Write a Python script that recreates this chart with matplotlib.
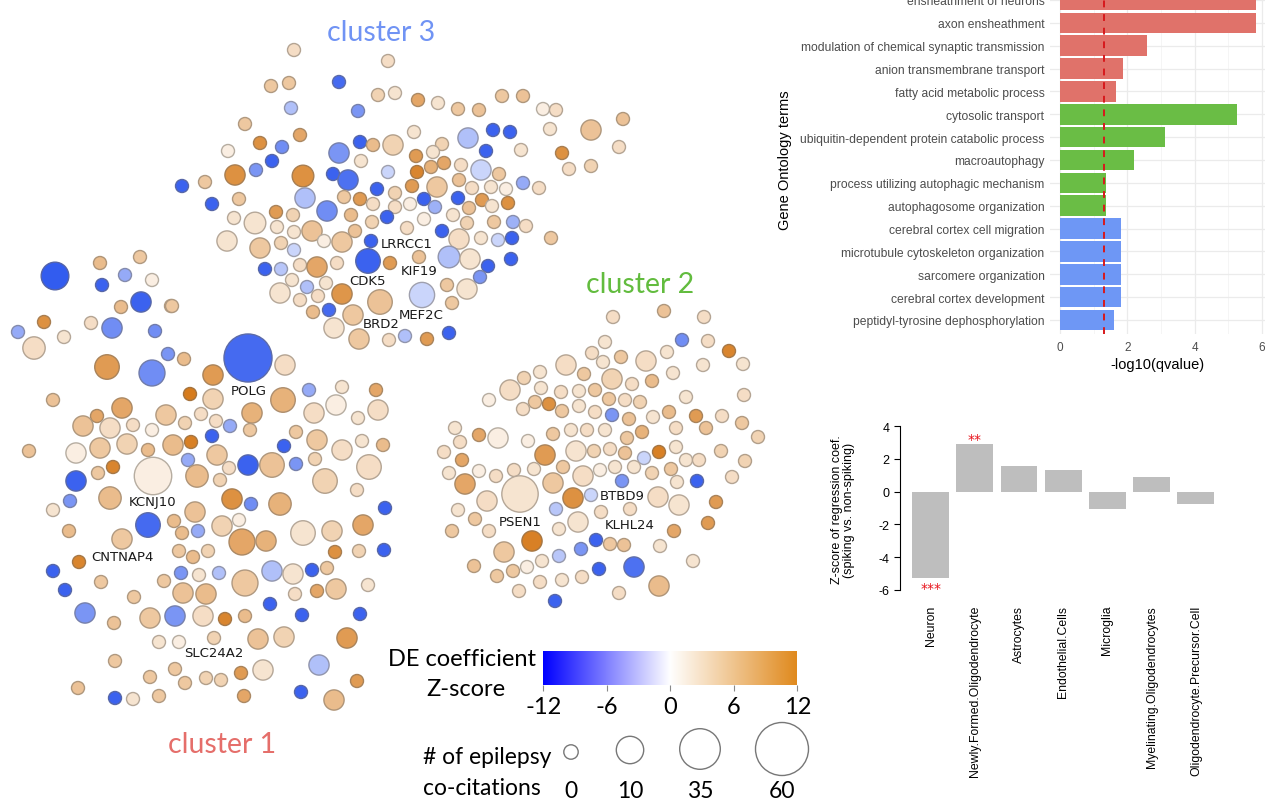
import numpy as np
import matplotlib
matplotlib.use("Agg")
import matplotlib.pyplot as plt
from matplotlib.colors import LinearSegmentedColormap, Normalize
from matplotlib.patches import Circle

# ---------------- network data (layout x/y, DE z-score, # epilepsy co-citations) -------------
c1_x = [55,100,140,125,102,152,141,121,171,44,
        91,112,155,18,64,34,168,184,107,152,
        53,190,122,97,83,110,133,152,166,185,
        201,29,76,100,127,148,173,191,188,76,
        98,113,153,197,248,285,213,213,252,283,
        309,342,376,314,336,378,358,216,230,250,
        212,296,284,317,342,362,383,217,229,248,
        272,296,315,369,325,357,220,232,251,280,
        385,110,53,70,148,195,174,222,239,303,
        332,363,69,122,182,198,242,266,335,359,
        384,179,193,208,79,53,65,101,134,85,
        114,164,181,199,219,245,272,293,312,327,
        183,206,295,317,336,368,270,302,360,150,
        175,203,225,245,159,179,214,258,284,347,
        115,150,175,185,206,221,241,263,319,357,
        78,115,133,159,244,301,334]
c1_y = [277,264,258,276,286,281,303,308,307,323,
        324,329,332,333,338,349,355,360,368,374,
        401,395,409,417,427,429,426,431,416,424,
        415,452,454,449,445,451,446,443,461,482,
        474,468,477,477,359,366,376,400,414,401,
        391,388,391,414,406,411,419,422,427,431,
        437,433,447,441,451,442,446,456,469,466,
        466,465,460,468,482,491,481,500,505,505,
        509,499,511,502,526,513,522,527,521,534,
        532,526,532,540,534,532,543,542,553,552,
        551,552,558,552,563,572,591,583,598,614,
        624,582,574,576,574,584,572,575,571,569,
        594,595,595,592,590,586,605,616,615,619,
        617,617,620,617,643,643,639,640,638,639,
        662,678,670,684,679,681,674,671,666,682,
        689,699,700,697,697,693,701]
c1_z = [-11.5,6,5,-6,-11,1.5,-11,6,5,10,
        3,-8,-8,-6,2.5,3,-7.5,6,9,-8,
        5.5,12,8,8,5.5,3,3,1.5,5,4,
        3,5.5,1.5,5,4,6,6,11.5,-6,-11,
        5,11,1.5,6,-10.5,3,9,4,7,7,
        -6,2.5,8,3,1.5,3,2.5,3,-6,5,
        -11,5,-11,5,3,2.5,6,5,3,-11,
        5.5,-7.5,4,3,4,3,4,10,-8,7,
        -11,6,2.5,-7.5,-10.5,5.5,6,4,1.5,2.5,
        4,8,6,5,6,-6,8,7,10,4,
        -11,5,6,4,11,-11,-11,5,5,-7.5,
        5.5,5,-7.5,2.5,-4.5,5,-4.5,2.5,-11,5,
        5.5,6,3,8,5,2.5,-11,-11,-11,5,
        -7.5,3,11,6,2.5,1.5,4,5.5,4,9,
        5,5,5,5,4,4,9,2.5,-4.5,9,
        5.5,-11,2.5,5,8,-11,6]
c1_cit = [10.5,0,0,0,0,0,5,0,0,0,
          0,5,0,0,0,6.5,0,0,8,9,
          0,0,5,0,5,5,0,0,5,0,
          0,0,5,5,5,0,5,0,0,5,
          0,0,29,6.5,50,5,5,5,5,8,
          0,0,0,5,5,5,0,0,0,0,
          0,0,0,5,5,0,0,5,0,5,
          8,0,0,8,8,0,0,5,0,6.5,
          0,6.5,0,0,8,5,0,5,0,8,
          5,5,0,5,0,0,9,5,0,0,
          0,0,0,0,0,0,0,0,0,5,
          0,0,0,0,0,9,5,5,0,0,
          5,5,0,0,5,0,0,0,0,5,
          5,5,0,0,0,0,0,5,5,5,
          0,0,0,0,0,0,0,5,5,0,
          0,0,0,0,0,0,5]

c2_x = [613,664,704,682,708,729,743,703,605,592,
        603,621,646,667,566,584,612,632,652,673,
        744,686,540,524,510,541,489,561,579,595,
        609,625,640,523,535,549,562,579,595,612,
        629,653,669,696,722,742,758,676,706,455,
        479,498,460,528,553,571,587,605,627,642,
        444,462,545,576,594,610,625,644,659,676,
        686,699,721,745,449,479,496,514,534,563,
        583,600,615,634,652,671,465,553,622,677,
        697,732,520,487,573,591,658,679,716,458,
        556,601,630,475,578,559,489,452,674,708,
        532,596,610,624,660,504,559,581,542,527,
        474,513,599,634,693,497,540,562,582,659,
        519,619,555]
c2_y = [318,312,318,341,342,352,365,366,343,354,
        363,358,362,353,366,375,380,385,382,374,
        396,398,373,379,391,389,401,393,392,391,
        400,401,403,410,403,405,412,407,413,416,
        420,418,413,417,417,424,438,429,429,429,
        436,439,443,442,435,431,431,431,439,433,
        453,461,456,452,452,450,454,459,453,448,
        461,461,452,462,474,472,477,471,470,468,
        477,471,468,468,474,470,485,484,482,483,
        482,478,495,502,499,496,498,506,503,511,
        510,513,510,520,523,530,532,532,532,524,
        542,541,545,546,547,553,557,550,562,568,
        567,572,570,568,562,577,583,581,578,587,
        592,594,602]
c2_z = [3,5.5,3,-8,3,11,2.5,2.5,2.5,3,
        2.5,5,3,2.5,3,5,4,3,6,2.5,
        3,2.5,2.5,4,3,2.5,1.5,3,2.5,5,
        5,3,4,3,5,10,5,2.5,3,-7.5,
        5.5,2.5,6,9,3,5,4,3,5.5,2.5,
        8,1.5,3,1.5,5,2.5,3,2.5,5,7,
        3,8,9,2.5,4,3,5.5,-3,11.5,2.5,
        2.5,3,4,4,2.5,1.5,3,3,2.5,5,
        3,1.5,2.5,2.5,4,5,8,5,-7.5,2.5,
        -11,3,2.5,3,10,-3,3,2.5,9,2.5,
        -4,3,3,5,2.5,2.5,3,5,8,9,
        11.5,-11,5,5.5,2.5,5,-4,-7.5,2.5,1.5,
        5.5,5,-11,-10,2.5,5,3,2.5,3,6,
        3,3,-11]
c2_cit = [0,0,0,0,0,0,0,0,0,0,
          0,0,5,0,5,0,5,0,0,0,
          0,0,0,0,5,0,0,0,0,0,
          0,0,0,0,0,0,0,0,0,0,
          0,0,0,0,0,0,0,0,0,0,
          0,5,0,0,0,0,0,0,0,0,
          0,0,5,5,0,0,0,0,0,0,
          0,0,0,0,0,0,0,0,0,0,
          5,0,0,0,0,0,5,5,0,0,
          0,0,27,5,5,0,5,5,0,0,
          0,0,0,0,5,0,0,0,0,0,
          5,0,0,0,0,5,0,0,0,0,
          0,0,0,5,0,0,0,0,0,5,
          0,0,0]

c3_x = [294,388,271,289,339,378,395,418,438,458,
        291,358,245,300,468,228,260,282,272,360,
        373,393,414,442,433,339,361,416,444,431,
        461,417,205,235,256,303,333,348,388,412,
        437,459,472,182,212,239,305,344,377,360,
        395,373,395,410,424,435,458,469,234,255,
        276,293,327,351,387,372,424,453,467,227,
        277,294,312,324,342,355,407,442,459,260,
        281,294,371,368,390,419,449,470,265,281,
        300,317,337,292,307,326,280,300,318,342,
        380,422,447,467,452,313,329,353,334,359,
        389,405,427,449,172,479,502,523,543,556,
        623,591,550,493,510,486,521,562,619,481,
        499,569,591,523,539,491,506,482,508,492,
        494,513,526,481,498,512,551,488,511,480]
c3_y = [51,62,87,84,83,96,94,101,104,110,
        109,112,125,136,139,152,144,148,162,143,
        146,146,133,145,153,154,162,157,164,168,
        166,173,183,176,171,177,175,181,173,187,
        188,181,189,187,205,200,199,198,190,200,
        194,205,208,205,200,208,199,209,219,224,
        213,216,212,216,218,223,220,216,224,242,
        228,233,232,242,243,232,229,232,240,249,
        244,251,242,262,264,258,258,260,270,270,
        266,268,264,281,288,284,294,301,297,295,
        303,296,286,290,304,313,311,316,329,340,
        341,337,340,334,307,111,97,97,110,111,
        120,131,130,131,133,152,151,154,148,171,
        175,170,167,184,189,188,190,201,204,207,
        223,223,227,239,241,239,239,267,260,278]
c3_z = [3,3,5,5,-10.5,4,2.5,8,2.5,5,
        -4.5,-7.5,5,8,-4.5,1.5,10,-8,-11,-11,
        6,4,2.5,4,2.5,-7.5,2.5,9,8,7,
        3,11,5,10,-7.5,10,-11,-10,-3,9,
        5,5.5,3,-11,-11,5,-4.5,5,-11,9,
        4,3,3,1.5,-11,-5.5,-11,5.5,2.5,2.5,
        9,4,-8,6,-11,4,1.5,2.5,4,2.5,
        2.5,2.5,5.5,1.5,5,5.5,3,-11,3,5,
        4,-3,-11,-11,9,5.5,-4.5,2.5,-11,-4,
        3,8,3,2.5,-4.5,2.5,2.5,3,3,9.5,
        5.5,-3,5,2.5,5,6,-10.5,5,2.5,5,
        3,-4.5,9,-11,5,5.5,5,5.5,1.5,3,
        5.5,5.5,2.5,-11,-11,-11,2.5,10,3,-3,
        5,3,4,-6,3,2.5,1.5,9,10,2.5,
        5,-5.5,3,2.5,-3,-11,5,-11,-11,-7.5]
c3_cit = [0,0,0,0,0,0,0,0,0,0,
          0,0,0,0,5,0,0,0,0,0,
          0,5,0,0,0,5,0,0,0,0,
          0,0,0,5,0,6,0,5,0,0,
          5,0,0,0,0,0,5,0,0,0,
          0,0,0,0,0,0,0,0,0,6,
          0,0,5,0,0,0,0,0,0,5,
          0,0,5,0,5,0,0,0,5,5,
          0,0,0,8,0,0,6,5,0,0,
          0,5,0,0,0,0,5,0,0,5,
          8,8.5,0,5,0,0,0,5,5,5,
          0,0,0,0,0,0,0,0,0,0,
          0,5,0,0,0,0,0,0,0,5,
          0,0,0,0,0,0,0,0,0,0,
          0,0,0,0,0,0,0,0,0,0]

gene_labels = ["POLG", "KCNJ10", "CNTNAP4", "SLC24A2", "LRRCC1", "KIF19",
               "CDK5", "BRD2", "MEF2C", "PSEN1", "BTBD9", "KLHL24"]
cluster_names = ["cluster 1", "cluster 2", "cluster 3"]

# legend values
cbar_ticks = [-12, -6, 0, 6, 12]
size_legend = [0, 10, 35, 60]

# ---------------- GO enrichment ----------------
go_terms = ["ensheathment of neurons", "axon ensheathment",
            "modulation of chemical synaptic transmission", "anion transmembrane transport",
            "fatty acid metabolic process", "cytosolic transport",
            "ubiquitin-dependent protein catabolic process", "macroautophagy",
            "process utilizing autophagic mechanism", "autophagosome organization",
            "cerebral cortex cell migration", "microtubule cytoskeleton organization",
            "sarcomere organization", "cerebral cortex development",
            "peptidyl-tyrosine dephosphorylation"]
go_vals = [5.81, 5.81, 2.58, 1.87, 1.66, 5.26, 3.11, 2.20, 1.35, 1.35,
           1.81, 1.81, 1.81, 1.81, 1.60]
go_cluster = [1, 1, 1, 1, 1, 2, 2, 2, 2, 2, 3, 3, 3, 3, 3]
go_threshold = 1.30

# ---------------- cell type regression ----------------
ct_names = ["Neuron", "Newly.Formed.Oligodendrocyte", "Astrocytes", "Endothelial.Cells",
            "Microglia", "Myelinating.Oligodendrocytes", "Oligodendrocyte.Precursor.Cell"]
ct_z = [-5.29, 2.91, 1.59, 1.32, -1.06, 0.88, -0.77]
ct_stars = ["***", "**", "", "", "", "", ""]

# ================= drawing =================
W, H = 1265, 803
fig = plt.figure(figsize=(W / 100, H / 100), dpi=100)
fig.patch.set_facecolor("white")

ax = fig.add_axes([0, 0, 1, 1])
ax.set_xlim(0, W)
ax.set_ylim(H, 0)
ax.axis("off")

node_cmap = LinearSegmentedColormap.from_list(
    "node", [(0, "#2A55EE"), (0.5, "#FFFFFF"), (1, "#D67B1C")])
bar_cmap = LinearSegmentedColormap.from_list(
    "cbar", [(0, "#0000FF"), (0.5, "#FFFFFF"), (1, "#E08A1E")])
norm = Normalize(-12, 12)


def radius(c):
    return np.interp(c, [0, 10, 35, 60], [6.5, 13.7, 20.3, 26.5])


for xs, ys, zs, cs in [(c1_x, c1_y, c1_z, c1_cit), (c2_x, c2_y, c2_z, c2_cit),
                       (c3_x, c3_y, c3_z, c3_cit)]:
    for x, y, z, c in zip(xs, ys, zs, cs):
        col = node_cmap(norm(z))
        edge = tuple(0.5 * np.array(col[:3]) + 0.5 * np.array([0.45, 0.42, 0.38]))
        ax.add_patch(Circle((x, y), radius(c), facecolor=col, edgecolor=edge,
                            lw=1.0, zorder=2))

label_pos = {"POLG": (231, 392), "KCNJ10": (129, 503), "CNTNAP4": (91, 558),
             "SLC24A2": (184, 654), "LRRCC1": (381, 244), "KIF19": (401, 272),
             "CDK5": (349, 282), "BRD2": (363, 325), "MEF2C": (399, 316),
             "PSEN1": (499, 523), "BTBD9": (600, 497), "KLHL24": (605, 526)}
for g in gene_labels:
    gx, gy = label_pos[g]
    ax.text(gx, gy, g, fontsize=9.5, ha="left", va="center", color="#1a1a1a", zorder=5,
            family="DejaVu Sans")

cl_style = {"cluster 1": ((222, 745), "#E56E6A"),
            "cluster 2": ((640, 285), "#62BC3E"),
            "cluster 3": ((381, 33), "#7093F4")}
for name in cluster_names:
    (cx, cy), col = cl_style[name]
    ax.text(cx, cy, name, fontsize=20.5, ha="center", va="center", color=col,
            family="Lato")

# colour legend
ax.text(462, 660, "DE coefficient", fontsize=17, ha="center", va="center", family="Lato")
ax.text(466, 690, "Z-score", fontsize=17, ha="center", va="center", family="Lato")
cax = fig.add_axes([543.3 / W, 1 - 685.7 / H, 254 / W, 34 / H])
grad = np.linspace(-12, 12, 512)[None, :]
cax.imshow(grad, cmap=bar_cmap, norm=norm, aspect="auto", extent=[-12, 12, 0, 1])
cax.set_xlim(-12, 12)
cax.set_yticks([])
cax.set_xticks(cbar_ticks)
cax.set_xticklabels([str(t) for t in cbar_ticks], fontsize=17, family="Lato")
cax.tick_params(axis="x", length=4, color="#888888", pad=4)
for s in cax.spines.values():
    s.set_visible(False)

# size legend
ax.text(423, 758, "# of epilepsy", fontsize=16.5, ha="left", va="center", family="Lato")
ax.text(423, 789, "co-citations", fontsize=16.5, ha="left", va="center", family="Lato")
leg_x = [571, 630, 700, 782]
leg_y = [753, 751, 750, 750]
for v, lx, ly in zip(size_legend, leg_x, leg_y):
    ax.add_patch(Circle((lx, ly), np.interp(v, [0, 10, 35, 60], [7.2, 13.7, 20.3, 26.5]),
                        facecolor="none", edgecolor="#777777", lw=1.0))
    ax.text(lx, 792, str(v), fontsize=16.5, ha="center", va="center", family="Lato")

# ---------------- GO bar chart ----------------
go_colors = {1: "#E0726A", 2: "#6ABD45", 3: "#6E97F5"}
n = len(go_terms)
ypos = np.arange(n)[::-1]
gax = fig.add_axes([1050 / W, 1 - 334.7 / H, 215 / W, 334.7 / H])
gax.set_facecolor("white")
gax.set_xlim(-0.30, 6.09)
gax.set_ylim(-0.6, n - 1 + 1 / 22.86)
for xv in [0, 2, 4, 6]:
    gax.axvline(xv, color="#EBEBEB", lw=0.9, zorder=0)
for xv in [1, 3, 5]:
    gax.axvline(xv, color="#F2F2F2", lw=0.5, zorder=0)
for yv in ypos:
    gax.axhline(yv, color="#EBEBEB", lw=0.9, zorder=0)
gax.barh(ypos, go_vals, height=0.9, color=[go_colors[c] for c in go_cluster], zorder=2)
gax.axvline(go_threshold, color="#D7191C", lw=1.4, ls=(0, (3.5, 3.5)), zorder=3)
gax.set_yticks(ypos)
gax.set_yticklabels(go_terms, fontsize=8.7, color="#4D4D4D", family="Liberation Sans")
gax.set_xticks([0, 2, 4, 6])
gax.set_xticklabels(["0", "2", "4", "6"], fontsize=8.5, color="#4D4D4D",
                    family="Liberation Sans")
gax.tick_params(length=0, pad=4)
gax.tick_params(axis="x", pad=5)
for s in gax.spines.values():
    s.set_visible(False)
fig.text(785 / W, 1 - 160 / H, "Gene Ontology terms", rotation=90, fontsize=10.5,
         ha="center", va="center", family="Liberation Sans")
fig.text(1157 / W, 1 - 365 / H, "-log10(qvalue)", fontsize=10.5, ha="center", va="center",
         family="Liberation Sans")

# ---------------- cell type bar chart ----------------
pos = 0.7 + 1.2 * np.arange(len(ct_names))
cx0, cx1 = 900, 1214.3
cy0, cy1 = 420.7, 597.5
bax = fig.add_axes([cx0 / W, 1 - cy1 / H, (cx1 - cx0) / W, (cy1 - cy0) / H])
bax.patch.set_alpha(0)
bax.bar(pos, ct_z, width=1.0, color="#BEBEBE", edgecolor="none")
bax.set_xlim(-0.13, 8.4)
bax.set_ylim(-6.4, 4.4)
bax.set_yticks([-6, -4, -2, 0, 2, 4])
bax.set_yticklabels(["-6", "-4", "-2", "0", "2", "4"], fontsize=9, family="Liberation Sans")
bax.tick_params(axis="y", length=4.5, width=0.8, pad=3)
bax.set_xticks(pos)
bax.set_xticklabels(ct_names, rotation=90, fontsize=8.8, family="Liberation Sans",
                    va="top", ha="center")
bax.tick_params(axis="x", length=0, pad=6)
for side in ["top", "right", "bottom"]:
    bax.spines[side].set_visible(False)
bax.spines["left"].set_bounds(-6, 4)
bax.spines["left"].set_linewidth(0.8)
for p, v, st in zip(pos, ct_z, ct_stars):
    if st:
        off = -7 if v < 0 else 4
        bax.annotate(st, (p, v), xytext=(0, off), textcoords="offset points",
                     ha="center", va="center", color="#E8141C", fontsize=10)
fig.text(843 / W, 1 - 510 / H, "Z-score of regression coef.\n(spiking vs. non-spiking)",
         rotation=90, fontsize=9, ha="center", va="center", multialignment="center",
         family="Liberation Sans", linespacing=1.1)

fig.savefig("out.png", dpi=100)
